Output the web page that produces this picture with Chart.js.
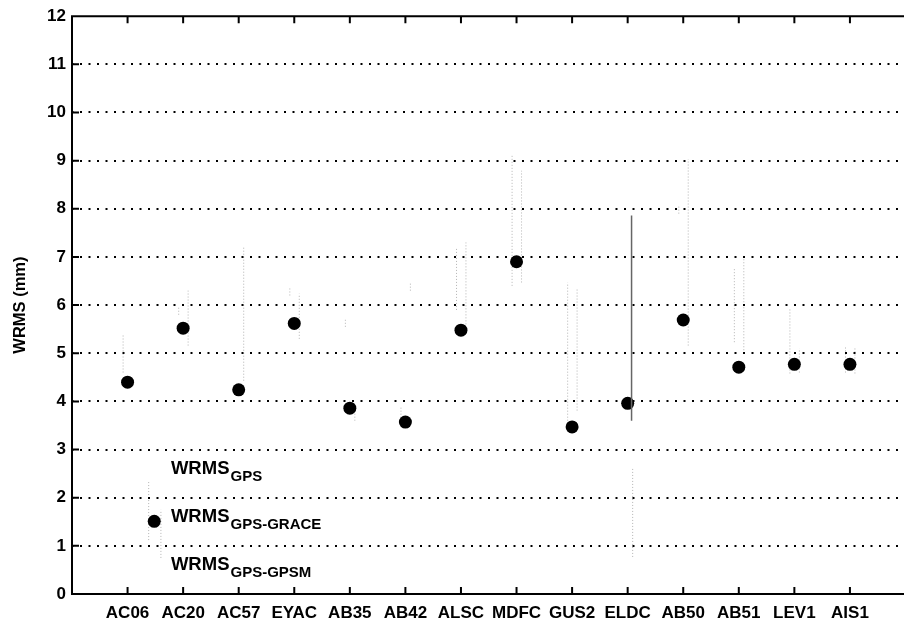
<!DOCTYPE html>
<html>
<head>
<meta charset="utf-8">
<script src="https://cdn.jsdelivr.net/npm/chart.js@4"></script>
<style>
  html, body { margin: 0; padding: 0; background: #fff; overflow: hidden; }
  #wrap { position: relative; width: 912px; height: 626px; }
</style>
</head>
<body>
<div id="wrap"><canvas id="c"></canvas></div>
<script>
// ---- data ----
const stations = ['AC06','AC20','AC57','EYAC','AB35','AB42','ALSC','MDFC','GUS2','ELDC','AB50','AB51','LEV1','AIS1'];
const wrmsGpsGrace = [4.40, 5.52, 4.24, 5.62, 3.86, 3.57, 5.48, 6.90, 3.47, 3.96, 5.69, 4.71, 4.77, 4.77];
// faint range lines left / right of each dot
const leftLow   = [4.60, 5.80, null, 6.20, 5.55, 3.60, 5.90, 6.40, 3.60, null, 7.90, 5.23, 4.58, 4.60];
const leftHigh  = [5.40, 5.95, null, 6.35, 5.70, 3.90, 7.20, 9.13, 6.47, null, 8.05, 6.76, 5.95, 5.16];
const rightLow  = [null, 5.16, 4.43, 5.30, 3.60, 6.30, 5.60, 6.47, 3.81, 0.77, 5.16, 5.00, 4.60, 4.58];
const rightHigh = [null, 6.30, 7.20, 6.24, 3.95, 6.45, 7.30, 8.79, 6.34, 2.60, 9.03, 6.99, 5.10, 5.13];
// solid range line (ELDC)
const solidLow  = [null, null, null, null, null, null, null, null, null, 3.60, null, null, null, null];
const solidHigh = [null, null, null, null, null, null, null, null, null, 7.86, null, null, null, null];
const yTickValues = [0,1,2,3,4,5,6,7,8,9,10,11,12];
const legendLabels = [['WRMS','GPS'], ['WRMS','GPS-GRACE'], ['WRMS','GPS-GPSM']];
const legendMarker = { value: 1.51, lineA: [1.12, 2.36], lineB: [0.75, 1.75] };

// ---- build segment data for the library ----
function segments(lo, hi, off) {
  const out = [];
  lo.forEach((l, i) => {
    if (l === null || hi[i] === null) return;
    out.push({x: i + 1 + off, y: l}, {x: i + 1 + off, y: hi[i]}, {x: i + 1 + off, y: null});
  });
  return out;
}
const dots = stations.map((s, i) => ({x: i + 1, y: wrmsGpsGrace[i]}));

const FONT = '"Liberation Sans", Arial, sans-serif';

const framePlugin = {
  id: 'frame',
  afterDraw(chart) {
    const {ctx, chartArea: a, scales: {x, y}} = chart;
    ctx.save();
    ctx.strokeStyle = '#000';
    ctx.lineWidth = 2;
    ctx.beginPath();
    ctx.moveTo(a.left, a.top); ctx.lineTo(a.right, a.top);
    ctx.moveTo(a.left, a.bottom); ctx.lineTo(a.right, a.bottom);
    ctx.moveTo(a.left, a.top - 1); ctx.lineTo(a.left, a.bottom + 1);
    ctx.moveTo(a.right, a.top - 1); ctx.lineTo(a.right, a.bottom + 1);
    stations.forEach((s, i) => {
      const px = x.getPixelForValue(i + 1);
      ctx.moveTo(px, a.bottom); ctx.lineTo(px, a.bottom - 7);
      ctx.moveTo(px, a.top); ctx.lineTo(px, a.top + 7);
    });
    yTickValues.forEach(v => {
      if (v === 0 || v === 12) return;
      const py = y.getPixelForValue(v);
      ctx.moveTo(a.left, py); ctx.lineTo(a.left + 7, py);
    });
    ctx.stroke();

    // legend (inside plot, lower left)
    const mx = x.getPixelForValue(1.48);
    ctx.lineWidth = 1;
    ctx.strokeStyle = 'rgba(0,0,0,0.3)';
    ctx.setLineDash([1, 2]);
    ctx.beginPath();
    const ax = x.getPixelForValue(1.38), bx = x.getPixelForValue(1.6);
    ctx.moveTo(ax, y.getPixelForValue(legendMarker.lineA[0])); ctx.lineTo(ax, y.getPixelForValue(legendMarker.lineA[1]));
    ctx.moveTo(bx, y.getPixelForValue(legendMarker.lineB[0])); ctx.lineTo(bx, y.getPixelForValue(legendMarker.lineB[1]));
    ctx.stroke();
    ctx.setLineDash([]);
    ctx.fillStyle = '#000';
    ctx.beginPath();
    ctx.arc(mx, y.getPixelForValue(legendMarker.value), 6.5, 0, Math.PI * 2);
    ctx.fill();

    const tx = x.getPixelForValue(1.78);
    const baseVals = [2.5, 1.5, 0.5];
    ctx.textBaseline = 'alphabetic';
    ctx.textAlign = 'left';
    legendLabels.forEach((lab, i) => {
      const by = y.getPixelForValue(baseVals[i]);
      ctx.font = 'bold 18.5px ' + FONT;
      ctx.fillText(lab[0], tx, by);
      const w = ctx.measureText(lab[0]).width;
      ctx.font = 'bold 15px ' + FONT;
      ctx.fillText(lab[1], tx + w + 1, by + 7);
    });
    ctx.restore();
  }
};

new Chart(document.getElementById('c'), {
  type: 'scatter',
  data: {
    datasets: [
      {
        label: 'left range',
        data: segments(leftLow, leftHigh, -0.08),
        showLine: true, spanGaps: false,
        borderColor: 'rgba(0,0,0,0.3)', borderWidth: 1, borderDash: [1, 2],
        pointRadius: 0
      },
      {
        label: 'right range',
        data: segments(rightLow, rightHigh, 0.09),
        showLine: true, spanGaps: false,
        borderColor: 'rgba(0,0,0,0.3)', borderWidth: 1, borderDash: [1, 2],
        pointRadius: 0
      },
      {
        label: 'solid range',
        data: segments(solidLow, solidHigh, 0.07),
        showLine: true, spanGaps: false,
        borderColor: '#666', borderWidth: 1.5,
        pointRadius: 0
      },
      {
        label: 'WRMS GPS-GRACE',
        data: dots,
        showLine: false,
        pointRadius: 6.5, pointHoverRadius: 6.5,
        pointBackgroundColor: '#000', pointBorderColor: '#000', pointBorderWidth: 0
      }
    ]
  },
  options: {
    responsive: true,
    maintainAspectRatio: false,
    animation: false,
    events: [],
    layout: { padding: { top: 15, right: 2, left: 0, bottom: 0 } },
    plugins: { legend: { display: false }, tooltip: { enabled: false } },
    scales: {
      x: {
        type: 'linear', min: 0, max: 15,
        afterBuildTicks(scale) { scale.ticks = stations.map((s, i) => ({value: i + 1})); },
        afterFit(scale) { scale.height = 32; },
        grid: { display: false, drawTicks: false },
        border: { display: false },
        ticks: {
          autoSkip: false, maxRotation: 0, padding: 9,
          color: '#000', font: { family: FONT, size: 17, weight: 'bold' },
          callback: (v) => stations[v - 1] || ''
        }
      },
      y: {
        type: 'linear', min: 0, max: 12,
        afterBuildTicks(scale) { scale.ticks = yTickValues.map(v => ({value: v})); },
        afterFit(scale) { scale.width = 72; },
        grid: {
          drawTicks: false,
          color: (c) => (c.tick && (c.tick.value === 0 || c.tick.value === 12)) ? 'rgba(0,0,0,0)' : '#000',
          lineWidth: 2
        },
        border: { display: false, dash: [2, 6.5], dashOffset: -8 },
        ticks: {
          padding: 6, color: '#000',
          font: { family: FONT, size: 17, weight: 'bold' },
          callback: (v) => String(v)
        },
        title: {
          display: true, text: 'WRMS (mm)', color: '#000',
          font: { family: FONT, size: 16.5, weight: 'bold' },
          padding: { top: 11, bottom: 0 }
        }
      }
    }
  },
  plugins: [framePlugin]
});
</script>
</body>
</html>
